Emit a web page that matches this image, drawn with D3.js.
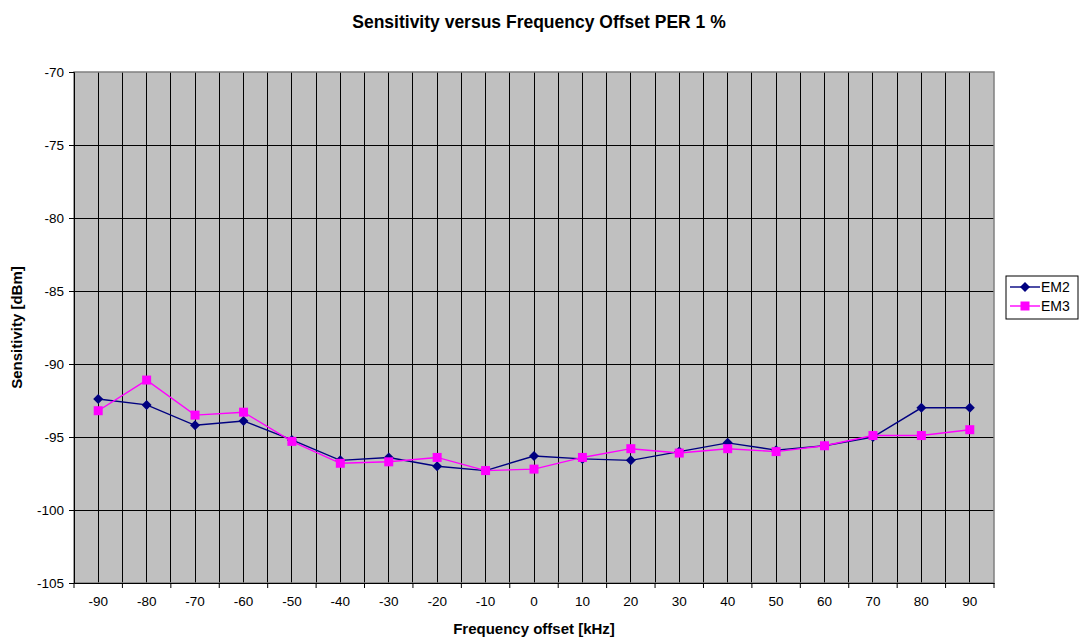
<!DOCTYPE html>
<html>
<head>
<meta charset="utf-8">
<script src="https://cdn.jsdelivr.net/npm/d3@7"></script>
<style>
  body { margin: 0; background: #fff; }
  text { font-family: "Liberation Sans", Arial, sans-serif; }
</style>
</head>
<body>
<svg id="chart" width="1082" height="640"></svg>
<script>
// données
const freqs = [-90, -80, -70, -60, -50, -40, -30, -20, -10, 0, 10, 20, 30, 40, 50, 60, 70, 80, 90];
const em2 = [-92.4, -92.8, -94.2, -93.9, -95.2, -96.6, -96.4, -97.0, -97.3, -96.3, -96.5, -96.6, -96.0, -95.4, -95.9, -95.6, -95.0, -93.0, -93.0];
const em3 = [-93.2, -91.1, -93.5, -93.3, -95.3, -96.8, -96.7, -96.4, -97.3, -97.2, -96.4, -95.8, -96.1, -95.8, -96.0, -95.6, -94.9, -94.9, -94.5];
const yTicks = [-70, -75, -80, -85, -90, -95, -100, -105];

const margin = {top: 72, right: 88, bottom: 57, left: 74},
  width = 1082 - margin.left - margin.right,
  height = 640 - margin.top - margin.bottom;

const svg = d3.select("#chart");
const g = svg.append("g").attr("transform", `translate(${margin.left},${margin.top})`);

const x = d3.scaleBand().domain(freqs).range([0, width]);
const y = d3.scaleLinear().domain([-105, -70]).range([height, 0]);

// fond gris
g.append("rect").attr("width", width).attr("height", height).attr("fill", "#c0c0c0");

// grille verticale : bords et centres des catégories
const vlines = [];
freqs.forEach(f => { vlines.push(x(f)); vlines.push(x(f) + x.bandwidth() / 2); });
g.selectAll(".vgrid").data(vlines.slice(1)).enter().append("line")
  .attr("x1", d => d).attr("x2", d => d)
  .attr("y1", 0).attr("y2", height)
  .attr("stroke", "#000").attr("stroke-width", 1).attr("shape-rendering", "crispEdges");

// grille horizontale
g.selectAll(".hgrid").data(yTicks.slice(1, -1)).enter().append("line")
  .attr("x1", 0).attr("x2", width)
  .attr("y1", d => y(d)).attr("y2", d => y(d))
  .attr("stroke", "#000").attr("stroke-width", 1).attr("shape-rendering", "crispEdges");

// cadre
g.append("rect").attr("width", width).attr("height", height)
  .attr("fill", "none").attr("stroke", "#808080").attr("stroke-width", 1.5);

// axes
const xAxis = g.append("g").attr("transform", `translate(0,${height})`)
  .call(d3.axisBottom(x).tickSize(0).tickPadding(13));
xAxis.select(".domain").attr("stroke", "#000");
xAxis.selectAll("text").attr("font-size", 13.5).attr("fill", "#000");
// petites graduations aux bords des catégories
xAxis.selectAll(".edge").data(freqs.concat(["end"])).enter().append("line")
  .attr("x1", d => d === "end" ? width : x(d)).attr("x2", d => d === "end" ? width : x(d))
  .attr("y1", 0).attr("y2", 5).attr("stroke", "#000");

const yAxis = g.append("g")
  .call(d3.axisLeft(y).tickValues(yTicks).tickSize(5).tickPadding(5).tickFormat(d => String(d)));
yAxis.select(".domain").attr("stroke", "#000");
yAxis.selectAll("text").attr("font-size", 13.5).attr("fill", "#000");

// séries
const diamond = {draw(ctx, size) { const r = Math.sqrt(size) / 2;
  ctx.moveTo(0, -r); ctx.lineTo(r, 0); ctx.lineTo(0, r); ctx.lineTo(-r, 0); ctx.closePath(); }};
const series = [
  {name: "EM2", values: em2, color: "#000080", shape: diamond, size: 100},
  {name: "EM3", values: em3, color: "#ff00ff", shape: d3.symbolSquare, size: 81}
];
const cx = f => x(f) + x.bandwidth() / 2;
const line = d3.line().x((d, i) => cx(freqs[i])).y(d => y(d));

series.forEach(s => {
  g.append("path").datum(s.values).attr("d", line)
    .attr("fill", "none").attr("stroke", s.color).attr("stroke-width", 1.4);
  g.selectAll(".m" + s.name).data(s.values).enter().append("path")
    .attr("d", d3.symbol().type(s.shape).size(s.size))
    .attr("transform", (d, i) => `translate(${cx(freqs[i])},${y(d)})`)
    .attr("fill", s.color);
});

// titres
svg.append("text").attr("x", 539).attr("y", 28).attr("text-anchor", "middle")
  .attr("font-size", 17.5).attr("font-weight", "bold").text("Sensitivity versus Frequency Offset PER 1 %");
svg.append("text").attr("x", margin.left + width / 2).attr("y", 634).attr("text-anchor", "middle")
  .attr("font-size", 15).attr("font-weight", "bold").text("Frequency offset [kHz]");
svg.append("text").attr("transform", `translate(22,${margin.top + height / 2}) rotate(-90)`)
  .attr("text-anchor", "middle").attr("font-size", 15).attr("font-weight", "bold").text("Sensitivity [dBm]");

// légende
const leg = svg.append("g").attr("transform", "translate(1006,276)");
leg.append("rect").attr("width", 72).attr("height", 43).attr("fill", "#fff").attr("stroke", "#000");
series.forEach((s, i) => {
  const ly = 11 + i * 19;
  leg.append("line").attr("x1", 4).attr("x2", 34).attr("y1", ly).attr("y2", ly)
    .attr("stroke", s.color).attr("stroke-width", 1.4);
  leg.append("path").attr("d", d3.symbol().type(s.shape).size(s.size))
    .attr("transform", `translate(19,${ly})`).attr("fill", s.color);
  leg.append("text").attr("x", 35).attr("y", ly + 5).attr("font-size", 14).text(s.name);
});
</script>
</body>
</html>
